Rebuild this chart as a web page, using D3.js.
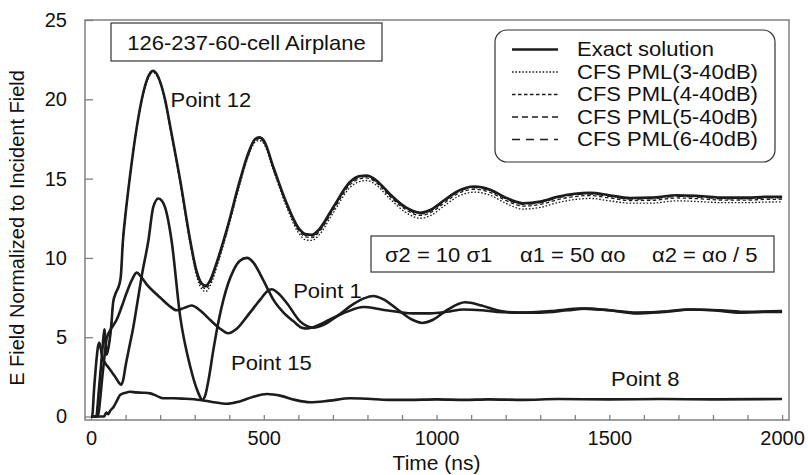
<!DOCTYPE html>
<html>
<head>
<meta charset="utf-8">
<script src="https://cdn.jsdelivr.net/npm/d3@7/dist/d3.min.js"></script>
<style>
  html, body { margin: 0; padding: 0; background: #fff; }
  svg { display: block; font-family: "Liberation Sans", Arial, Helvetica, sans-serif; }
</style>
</head>
<body>
<svg id="chart" width="808" height="475"></svg>
<script>
// ---- axis ticks ----
const xTicks = d3.range(0, 2001, 100);
const xTickLabels = [0, 500, 1000, 1500, 2000];
const yTicks = [0, 5, 10, 15, 20, 25];

// ---- Point 12 (shared time grid, exact + four CFS PML runs) ----
const p12Time = [0,15,22,30,36,39,42,45,50,58,64,72,80,86,92,100,113,132,151,165,179,190,200,215,229,258,287,305,320,332,345,365,393,431,455,475,487,500,528,567,600,620,639,660,701,750,775,798,825,866,910,953,985,1020,1060,1110,1155,1200,1250,1300,1350,1400,1445,1500,1560,1620,1696,1760,1831,1900,1950,2000];
const p12Exact = [0,0,1.5,3.5,5.0,5.5,4.7,3.9,4.3,5.6,7.2,7.8,8.2,8.8,11.0,12.8,15.2,18.2,20.4,21.4,21.8,21.6,21.1,19.9,18.3,14.9,11.1,9.2,8.4,8.25,8.6,9.8,11.8,14.9,16.6,17.5,17.6,17.4,15.7,13.4,11.9,11.5,11.45,11.8,13.2,14.8,15.15,15.2,14.9,14.0,13.2,12.85,13.05,13.6,14.2,14.5,14.3,13.8,13.45,13.55,13.85,14.05,14.1,13.95,13.78,13.8,13.95,13.9,13.8,13.8,13.85,13.86];
const p12Pml3 = [0,0,1.5,3.5,5.0,5.5,4.7,3.9,4.3,5.6,7.2,7.8,8.2,8.8,11.0,12.8,15.2,18.15,20.3,21.3,21.7,21.5,21.0,19.8,18.15,14.7,10.85,8.9,8.05,7.88,8.25,9.5,11.55,14.65,16.4,17.3,17.4,17.2,15.5,13.15,11.6,11.15,11.1,11.45,12.85,14.45,14.8,14.88,14.6,13.7,12.88,12.5,12.7,13.25,13.85,14.15,13.95,13.45,13.08,13.18,13.48,13.68,13.75,13.6,13.45,13.45,13.6,13.55,13.48,13.48,13.52,13.53];
const p12Pml4 = [0,0,1.5,3.5,5.0,5.5,4.7,3.9,4.3,5.6,7.2,7.8,8.2,8.8,11.0,12.8,15.2,18.2,20.35,21.35,21.75,21.55,21.05,19.85,18.22,14.8,10.98,9.05,8.22,8.06,8.42,9.64,11.66,14.76,16.48,17.4,17.5,17.3,15.6,13.28,11.76,11.33,11.28,11.63,13.02,14.62,14.97,15.04,14.75,13.85,13.05,12.68,12.88,13.43,14.03,14.33,14.13,13.63,13.27,13.37,13.67,13.87,13.93,13.78,13.62,13.63,13.78,13.73,13.64,13.64,13.69,13.7];
const p12Pml5 = [0,0,1.5,3.5,5.0,5.5,4.7,3.9,4.3,5.6,7.2,7.8,8.2,8.8,11.0,12.8,15.2,18.2,20.38,21.38,21.78,21.58,21.08,19.88,18.27,14.86,11.05,9.14,8.33,8.17,8.52,9.73,11.74,14.84,16.55,17.46,17.56,17.36,15.66,13.35,11.84,11.43,11.38,11.73,13.12,14.72,15.07,15.13,14.83,13.93,13.14,12.78,12.98,13.53,14.13,14.43,14.23,13.73,13.38,13.48,13.78,13.98,14.03,13.88,13.71,13.73,13.88,13.83,13.73,13.73,13.78,13.79];
const p12Pml6 = [0,0,1.5,3.5,5.0,5.5,4.7,3.9,4.3,5.6,7.2,7.8,8.2,8.8,11.0,12.8,15.2,18.2,20.39,21.39,21.79,21.59,21.09,19.89,18.29,14.88,11.08,9.18,8.38,8.22,8.57,9.77,11.78,14.88,16.58,17.48,17.58,17.38,15.68,13.38,11.88,11.47,11.42,11.77,13.17,14.77,15.12,15.17,14.87,13.97,13.17,12.82,13.02,13.57,14.17,14.47,14.27,13.77,13.42,13.52,13.82,14.02,14.07,13.92,13.75,13.77,13.92,13.87,13.77,13.77,13.82,13.83];

// ---- Point 15 (time, field) ----
const p15Exact = [[0,0],[3,0],[9,1.8],[15,3.4],[20,4.4],[24,4.65],[28,4.3],[33,3.7],[40,3.4],[50,3.1],[60,2.8],[70,2.5],[80,2.15],[87,2.0],[93,2.3],[100,3.2],[110,4.3],[122,5.6],[132,6.9],[147,8.9],[166,11.1],[180,13.2],[195,13.75],[205,13.6],[214,13.2],[233,11.1],[258,6.3],[287,3.15],[311,1.46],[322,1.05],[330,1.3],[340,2.3],[354,4.2],[368,5.9],[383,7.35],[397,8.4],[412,9.2],[430,9.8],[451,10.0],[470,9.7],[489,9.0],[510,8.1],[528,7.35],[555,6.6],[586,6.0],[610,5.6],[625,5.55],[645,5.65],[690,6.1],[740,6.6],[788,6.9],[840,6.75],[886,6.6],[935,6.5],[982,6.5],[1030,6.6],[1078,6.75],[1130,6.7],[1175,6.6],[1250,6.55],[1330,6.65],[1420,6.8],[1500,6.7],[1580,6.55],[1660,6.6],[1740,6.75],[1820,6.7],[1900,6.6],[2000,6.65]];

// ---- Point 1 (time, field) ----
const p1Exact = [[0,0],[20,0],[26,1.0],[33,2.6],[40,4.0],[45,4.9],[60,5.6],[74,6.1],[90,7.0],[103,7.8],[118,8.6],[132,9.07],[145,8.8],[162,8.3],[180,7.9],[200,7.5],[225,7.0],[248,6.7],[270,6.85],[291,7.0],[315,6.7],[345,6.08],[370,5.6],[397,5.25],[420,5.5],[451,6.3],[489,7.35],[510,7.9],[523,8.02],[540,7.8],[567,7.14],[605,6.0],[625,5.7],[645,5.6],[670,5.75],[710,6.3],[760,7.1],[790,7.45],[817,7.6],[845,7.4],[890,6.7],[930,6.1],[958,5.9],[990,6.1],[1030,6.7],[1083,7.2],[1130,7.0],[1175,6.7],[1230,6.55],[1300,6.55],[1380,6.7],[1430,6.8],[1500,6.7],[1580,6.5],[1650,6.6],[1730,6.75],[1800,6.7],[1880,6.55],[1950,6.6],[2000,6.6]];

// ---- Point 8 (time, field) ----
const p8Exact = [[0,0],[38,0],[44,0.25],[50,0.15],[55,0.35],[65,0.6],[75,1.0],[84,1.35],[100,1.5],[113,1.56],[130,1.52],[150,1.5],[171,1.46],[190,1.3],[209,1.15],[240,1.15],[270,1.12],[316,1.04],[350,0.92],[393,0.8],[430,0.95],[470,1.25],[509,1.42],[550,1.3],[590,1.05],[634,0.9],[690,1.0],[750,1.15],[800,1.12],[860,1.05],[920,1.05],[1000,1.08],[1080,1.05],[1150,1.08],[1250,1.05],[1350,1.1],[1500,1.08],[1650,1.1],[1800,1.08],[2000,1.1]];

// ---- legend entries and dash styles ----
const legendNames = ["Exact solution", "CFS PML(3-40dB)", "CFS PML(4-40dB)", "CFS PML(5-40dB)", "CFS PML(6-40dB)"];
const dashes = [null, "1.6,1.8", "3.5,2.5", "6,4", "8,6"];

// ---- parameter note, three groups ----
const paramParts = ["σ2 = 10 σ1", "α1 = 50 αo", "α2 = αo / 5"];

const svg = d3.select("#chart");
const plot = { left: 85, right: 789, top: 20, bottom: 420 };

const x = d3.scaleLinear().domain([-17.5, 2020]).range([plot.left, plot.right]);
const y = d3.scaleLinear().domain([-0.22, 25]).range([plot.bottom, plot.top]);

const axisColor = "#808080";
const ink = "#1c1c1c";
const textInk = "#111";
const noteSize = 20;     // annotation font size
const noteStretch = 1.1; // annotation glyphs are set slightly wide

// places a slightly widened annotation text at (px, py)
function note(parent, px, py, str, anchor) {
  return parent.append("text")
    .attr("transform", `translate(${px},${py}) scale(${noteStretch},1)`)
    .attr("text-anchor", anchor || "start")
    .attr("font-size", noteSize).attr("fill", textInk)
    .text(str);
}

// frame
svg.append("rect")
  .attr("x", plot.left).attr("y", plot.top)
  .attr("width", plot.right - plot.left).attr("height", plot.bottom - plot.top)
  .attr("fill", "none").attr("stroke", axisColor).attr("stroke-width", 1.5);

// x axis
const xAxis = d3.axisBottom(x)
  .tickValues(xTicks)
  .tickSize(-5)
  .tickPadding(11)
  .tickFormat(d => xTickLabels.includes(d) ? String(d) : "");
const gx = svg.append("g").attr("transform", `translate(0,${plot.bottom})`).call(xAxis);
gx.select(".domain").remove();
gx.selectAll(".tick line").attr("stroke", axisColor).attr("stroke-width", 1.3);
gx.selectAll(".tick text").attr("font-size", 20).attr("fill", textInk)
  .attr("font-family", "Liberation Sans, Arial, sans-serif");

// y axis
const yAxis = d3.axisLeft(y)
  .tickValues(yTicks)
  .tickSize(-8)
  .tickPadding(18)
  .tickFormat(d3.format("d"));
const gy = svg.append("g").attr("transform", `translate(${plot.left},0)`).call(yAxis);
gy.select(".domain").remove();
gy.selectAll(".tick line").attr("stroke", axisColor).attr("stroke-width", 1.3);
gy.selectAll(".tick text").attr("font-size", 20).attr("fill", textInk)
  .attr("font-family", "Liberation Sans, Arial, sans-serif");

// axis titles
svg.append("text")
  .attr("x", (x(0) + x(2000)) / 2).attr("y", 470)
  .attr("text-anchor", "middle").attr("font-size", 21).attr("fill", textInk)
  .text("Time (ns)");
svg.append("text")
  .attr("transform", `translate(24,${(plot.top + plot.bottom) / 2 + 8}) rotate(-90)`)
  .attr("text-anchor", "middle").attr("font-size", 20).attr("fill", textInk)
  .text("E Field Normalized to Incident Field");

// curves
svg.append("clipPath").attr("id", "plotClip")
  .append("rect").attr("x", plot.left).attr("y", plot.top)
  .attr("width", plot.right - plot.left).attr("height", plot.bottom - plot.top);

const lineGen = d3.line()
  .x(d => x(d[0])).y(d => y(d[1]))
  .curve(d3.curveMonotoneX);

const curves = svg.append("g").attr("clip-path", "url(#plotClip)");

function drawSeries(data, i) {
  curves.append("path")
    .datum(data)
    .attr("d", lineGen)
    .attr("fill", "none")
    .attr("stroke", ink)
    .attr("stroke-width", i === 0 ? 2.6 : 1.3)
    .attr("stroke-dasharray", dashes[i])
    .attr("stroke-linejoin", "round");
}

// PML runs of Point 12 first, exact solutions on top
const p12Series = [p12Exact, p12Pml3, p12Pml4, p12Pml5, p12Pml6];
[4, 3, 2, 1].forEach(i => drawSeries(p12Time.map((t, k) => [t, p12Series[i][k]]), i));
drawSeries(p12Time.map((t, k) => [t, p12Exact[k]]), 0);
drawSeries(p15Exact, 0);
drawSeries(p1Exact, 0);
drawSeries(p8Exact, 0);

// curve labels (anchored in data coordinates)
const labels = [
  { text: "Point 12", t: 230, v: 19.52 },
  { text: "Point 1", t: 585, v: 7.47 },
  { text: "Point 15", t: 405, v: 2.93 },
  { text: "Point 8", t: 1505, v: 1.92 }
];
const labelG = svg.append("g");
labels.forEach(d => note(labelG, x(d.t), y(d.v), d.text));

// title box
const titleG = svg.append("g");
titleG.append("rect").attr("x", 111).attr("y", 23).attr("width", 271).attr("height", 38)
  .attr("fill", "#fff").attr("stroke", "#333").attr("stroke-width", 1.2);
note(titleG, 246.5, 50, "126-237-60-cell Airplane", "middle");

// parameter box
const parG = svg.append("g");
parG.append("rect").attr("x", 371).attr("y", 236).attr("width", 403).attr("height", 36)
  .attr("fill", "#fff").attr("stroke", "#333").attr("stroke-width", 1.2);
paramParts.forEach((p, i) => note(parG, [385, 520, 652][i], 262, p));

// legend
const legG = svg.append("g");
legG.append("rect").attr("x", 495).attr("y", 30).attr("width", 280).attr("height", 132)
  .attr("rx", 12).attr("ry", 12)
  .attr("fill", "#fff").attr("stroke", "#333").attr("stroke-width", 1.2);
legendNames.forEach((name, i) => {
  const row = legG.append("g").attr("transform", `translate(0,${49.5 + i * 22.5})`);
  row.append("line")
    .attr("x1", 512).attr("x2", 558).attr("y1", 0).attr("y2", 0)
    .attr("stroke", ink)
    .attr("stroke-width", i === 0 ? 2.6 : 1.3)
    .attr("stroke-dasharray", dashes[i]);
  note(row, 577, 6.5, name);
});
</script>
</body>
</html>
